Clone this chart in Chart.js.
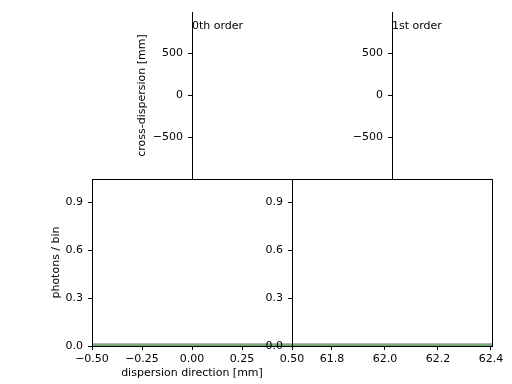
<!DOCTYPE html>
<html>
<head>
<meta charset="utf-8">
<script src="https://cdn.jsdelivr.net/npm/chart.js@4/dist/chart.umd.min.js"></script>
<style>
  html, body { margin: 0; padding: 0; background: #fff; }
  #wrap { position: relative; width: 512px; height: 384px; overflow: hidden; }
  canvas { position: absolute; }
</style>
</head>
<body>
<div id="wrap">
  <canvas id="cTop0" width="212" height="193" style="left:100px;top:0px"></canvas>
  <canvas id="cTop1" width="212" height="193" style="left:300px;top:0px"></canvas>
  <canvas id="cHist0" width="312" height="219" style="left:0px;top:165px"></canvas>
  <canvas id="cHist1" width="312" height="219" style="left:200px;top:165px"></canvas>
</div>
<script>
/* Image panels (cross-dispersion) + histograms for 0th and 1st order. */
const orderLabels = ['0th order', '1st order'];
const crossTicks = [-500, 0, 500];
const crossRange = [-995, 995];

const histTicks = [0, 0.3, 0.6, 0.9];
const histMax = 1.045;

const dispTicks0 = [-0.5, -0.25, 0, 0.25, 0.5];
const dispRange0 = [-0.5, 0.5];
const dispTicks1 = [61.8, 62.0, 62.2, 62.4];
const dispRange1 = [61.649, 62.404];

// nearly flat histograms, sitting just above zero
const greyLevel0 = [0.013, 0.013];
const greenLevel0 = [0.006, 0.006];
const greyLevel1 = [0.013, 0.013];
const greenLevel1 = [0.006, 0.006];

Chart.defaults.font.family = "'DejaVu Sans', sans-serif";
Chart.defaults.font.size = 11;
Chart.defaults.color = '#000';

const fmt = (v, dec) => v.toFixed(dec).replace('-', '\u2212');
const FONT = { family: "'DejaVu Sans', sans-serif", size: 11 };

const framePlugin = {
  id: 'frame',
  afterDatasetsDraw(chart, args, o) {
    if (!o.box) return;
    const a = chart.chartArea, c = chart.ctx;
    c.save();
    c.strokeStyle = '#000';
    c.lineWidth = 1;
    c.strokeRect(a.left + 0.5, a.top + 0.5, a.right - a.left, a.bottom - a.top);
    c.restore();
  },
};
const labelPlugin = {
  id: 'orderLabel',
  afterDraw(chart, args, o) {
    if (!o.text) return;
    const a = chart.chartArea, c = chart.ctx;
    c.save();
    c.fillStyle = '#000';
    c.font = "11px 'DejaVu Sans', sans-serif";
    c.textAlign = 'left';
    c.textBaseline = 'alphabetic';
    c.fillText(o.text, a.left, a.top + 16.5);
    c.restore();
  },
};

function yAxis(range, ticks, dec, title, titlePad, border) {
  return {
    type: 'linear', position: 'left', min: range[0], max: range[1],
    afterFit: s => { s.width = 92; },
    afterBuildTicks: s => { s.ticks = ticks.map(v => ({ value: v })); },
    ticks: { padding: 5, font: FONT, color: '#000', callback: v => fmt(v, dec) },
    grid: { drawOnChartArea: false, drawTicks: true, tickLength: 4, tickColor: '#000', lineWidth: 1 },
    border: { display: border, color: '#000', width: 1 },
    title: { display: !!title, text: title || '', font: FONT, color: '#000', padding: { top: titlePad, bottom: 0 } },
  };
}

function imagePanel(id, idx, withTitle) {
  return new Chart(document.getElementById(id), {
    type: 'line',
    data: { datasets: [] },
    options: {
      responsive: false, animation: false,
      layout: { padding: { left: 0, right: 20, top: 12, bottom: 14 } },
      plugins: { legend: { display: false }, tooltip: { enabled: false }, orderLabel: { text: orderLabels[idx] } },
      scales: {
        x: { type: 'linear', display: false, min: 0, max: 1 },
        y: yAxis(crossRange, crossTicks, 0, withTitle ? 'cross-dispersion [mm]' : null, 36, true),
      },
    },
    plugins: [labelPlugin],
  });
}

function histPanel(id, range, ticks, dec, grey, green, withTitles) {
  const line = (lvl, color) => ({
    data: [{ x: range[0], y: lvl[0] }, { x: range[1], y: lvl[1] }],
    borderColor: color, borderWidth: 1.5, pointRadius: 0, tension: 0, fill: false,
  });
  return new Chart(document.getElementById(id), {
    type: 'line',
    data: { datasets: [line(grey, '#9a9a9a'), line(green, '#2ca02c')] },
    options: {
      responsive: false, animation: false,
      layout: { padding: { left: 0, right: 20, top: 14, bottom: 0 } },
      plugins: { legend: { display: false }, tooltip: { enabled: false }, frame: { box: true } },
      scales: {
        x: {
          type: 'linear', position: 'bottom', min: range[0], max: range[1],
          afterFit: s => { s.height = 38; },
          afterBuildTicks: s => { s.ticks = ticks.map(v => ({ value: v })); },
          ticks: { padding: 3, maxRotation: 0, autoSkip: false, font: FONT, color: '#000', callback: v => fmt(v, dec) },
          grid: { drawOnChartArea: false, drawTicks: true, tickLength: 4, tickColor: '#000', lineWidth: 1 },
          border: { display: false },
          title: { display: withTitles, text: 'dispersion direction [mm]', font: FONT, color: '#000', padding: { top: 0, bottom: 4 } },
        },
        y: yAxis([0, histMax], histTicks, 1, withTitles ? 'photons / bin' : null, 50, false),
      },
    },
    plugins: [framePlugin],
  });
}

imagePanel('cTop0', 0, true);
imagePanel('cTop1', 1, false);
histPanel('cHist0', dispRange0, dispTicks0, 2, greyLevel0, greenLevel0, true);
histPanel('cHist1', dispRange1, dispTicks1, 1, greyLevel1, greenLevel1, false);
</script>
</body>
</html>
